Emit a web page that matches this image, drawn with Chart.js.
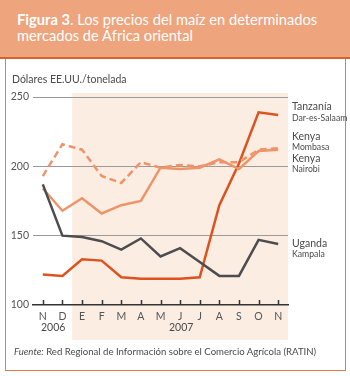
<!DOCTYPE html>
<html>
<head>
<meta charset="utf-8">
<script src="https://cdn.jsdelivr.net/npm/chart.js@4"></script>
<style>
  body { margin: 0; background: #fff; }
  #wrap { position: relative; width: 350px; height: 376px; overflow: hidden; font-family: Lato, "Open Sans", sans-serif; }
  #head { position: absolute; left: 0; top: 0; width: 350px; height: 57px; background: #eea47c; border-bottom: 2px solid #e0602a; }
  #head div { position: absolute; left: 17px; color: #fff; font-size: 14.7px; white-space: nowrap; }
  #frame { position: absolute; left: 5px; top: 59px; width: 339px; height: 311px; border: 1.5px solid #e97a45; border-top: none; }
  canvas { position: absolute; left: 0; top: 0; }
  .lab { position: absolute; color: #4a4a4a; white-space: nowrap; }
  .big { font-size: 10.5px; }
  .small { font-size: 8.7px; }
</style>
</head>
<body>
<div id="wrap">
  <div id="head">
    <div style="top:10px"><b>Figura 3</b>. Los precios del maíz en determinados</div>
    <div style="top:26px">mercados de África oriental</div>
  </div>
  <div id="frame"></div>
  <canvas id="c" width="350" height="376"></canvas>
  <div class="lab big" style="left:12px;top:73px">Dólares EE.UU./tonelada</div>
  <div class="lab big" style="left:292px;top:100px">Tanzanía</div>
  <div class="lab small" style="left:292px;top:112px">Dar-es-Salaam</div>
  <div class="lab big" style="left:292px;top:130px">Kenya</div>
  <div class="lab small" style="left:292px;top:141px">Mombasa</div>
  <div class="lab big" style="left:292px;top:152px">Kenya</div>
  <div class="lab small" style="left:292px;top:163px">Nairobi</div>
  <div class="lab big" style="left:292px;top:237px">Uganda</div>
  <div class="lab small" style="left:292px;top:248px">Kampala</div>
  <div class="lab big" style="left:41px;top:321px">2006</div>
  <div class="lab big" style="left:169px;top:321px">2007</div>
  <div class="lab" style="left:14px;top:346px;font-size:9.6px"><i>Fuente:</i> Red Regional de Información sobre el Comercio Agrícola (RATIN)</div>
</div>
<script>
var months = ['N', 'D', 'E', 'F', 'M', 'A', 'M', 'J', 'J', 'A', 'S', 'O', 'N'];
var tanzania = [122, 121, 133, 132, 120, 119, 119, 119, 120, 172, 202, 239, 237];
var kenyaMombasa = [193, 216, 212, 193, 188, 203, 199, 201, 200, 203, 203, 212, 213];
var kenyaNairobi = [184, 168, 177, 166, 172, 175, 199, 198, 199, 205, 198, 211, 212];
var uganda = [187, 150, 149, 146, 140, 148, 135, 141, 131, 121, 121, 147, 144];
var yTicks = [100, 150, 200, 250];

// shaded 2007 band + inward ticks on the x axis
var decor = {
    id: 'decor',
    beforeDraw: function(chart) {
        var ctx = chart.ctx, x = chart.scales.x, a = chart.chartArea;
        var left = (x.getPixelForValue(1) + x.getPixelForValue(2)) / 2;
        ctx.save();
        ctx.fillStyle = '#fcede3';
        ctx.fillRect(left, a.top - 4, a.right - left, a.bottom - a.top + 39);
        ctx.restore();
    },
    afterDraw: function(chart) {
        var ctx = chart.ctx, x = chart.scales.x, a = chart.chartArea;
        ctx.save();
        ctx.strokeStyle = '#333';
        ctx.lineWidth = 1.5;
        for (var i = 0; i < months.length; i++) {
            var px = Math.round(x.getPixelForValue(i)) + 0.5;
            ctx.beginPath();
            ctx.moveTo(px, a.bottom);
            ctx.lineTo(px, a.bottom - 5);
            ctx.stroke();
        }
        ctx.restore();
    }
};

var ctx = document.getElementById('c').getContext('2d');
var chart = new Chart(ctx, {
    type: 'line',
    data: {
        labels: months,
        datasets: [
            { label: 'Uganda', data: uganda, borderColor: '#4d4d4f', borderWidth: 2.5 },
            { label: 'Kenya Nairobi', data: kenyaNairobi, borderColor: '#ef9468', borderWidth: 2.5 },
            { label: 'Kenya Mombasa', data: kenyaMombasa, borderColor: '#ef9468', borderWidth: 2.5, borderDash: [7, 4] },
            { label: 'Tanzania', data: tanzania, borderColor: '#dc5320', borderWidth: 2.5 }
        ]
    },
    options: {
        responsive: false,
        animation: false,
        layout: { padding: { left: 0, right: 62, top: 97, bottom: 51 } },
        elements: { point: { radius: 0 }, line: { tension: 0 } },
        plugins: { legend: { display: false }, tooltip: { enabled: false } },
        scales: {
            x: {
                offset: true,
                grid: { display: false, drawTicks: false },
                border: { display: true, color: '#333', width: 1.5 },
                ticks: { color: '#555', padding: 5, font: { family: 'Lato', size: 10.5 } },
                afterFit: function(s) { s.height = 20; }
            },
            y: {
                min: 100, max: 250,
                afterBuildTicks: function(s) { s.ticks = yTicks.map(function(v) { return { value: v }; }); },
                grid: { color: function(c) { return c.tick.value === 100 ? 'rgba(0,0,0,0)' : '#9a9a9a'; }, drawTicks: false, lineWidth: 1 },
                border: { display: false },
                ticks: { color: '#555', padding: 4, font: { family: 'Lato', size: 10.5 } },
                afterFit: function(s) { s.width = 33; }
            }
        }
    },
    plugins: [decor]
});
</script>
</body>
</html>
